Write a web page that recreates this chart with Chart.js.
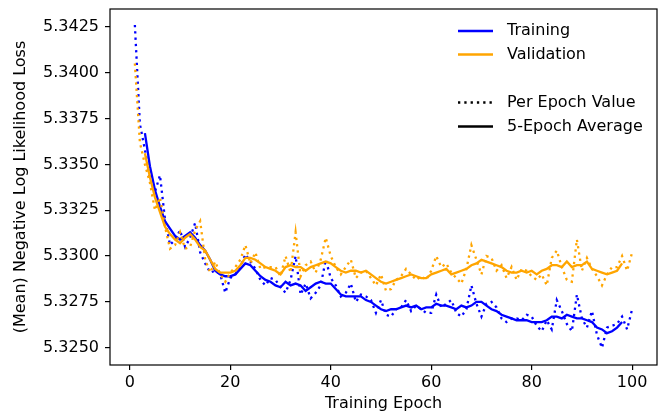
<!DOCTYPE html>
<html>
<head>
<meta charset="utf-8">
<script src="https://cdn.jsdelivr.net/npm/chart.js@4.4.1/dist/chart.umd.min.js"></script>
<style>
  html, body { margin: 0; padding: 0; background: #fff; }
  canvas { display: block; }
</style>
</head>
<body>
<canvas id="lossChart" width="659" height="416"></canvas>
<script>
// epochs 1..100 (per-epoch values) and 3..98 (centred 5-epoch average)
const epochs = Array.from({ length: 100 }, (_, i) => i + 1);
const avgEpochs = Array.from({ length: 96 }, (_, i) => i + 3);

const trainLoss = [
    5.3426, 5.3372, 5.3358, 5.3342, 5.3335, 5.3344, 5.3320, 5.3306, 5.3309, 5.3314,
    5.3305, 5.3310, 5.3318, 5.3302, 5.3296, 5.3291, 5.3292, 5.3290, 5.3280, 5.3288,
    5.3290, 5.3294, 5.3301, 5.3297, 5.3293, 5.3287, 5.3284, 5.3288, 5.3287, 5.3283,
    5.3280, 5.3287, 5.3300, 5.3279, 5.3285, 5.3277, 5.3280, 5.3284, 5.3298, 5.3288,
    5.3284, 5.3278, 5.3280, 5.3285, 5.3275, 5.3279, 5.3278, 5.3276, 5.3269, 5.3276,
    5.3268, 5.3267, 5.3271, 5.3272, 5.3276, 5.3270, 5.3273, 5.3271, 5.3269, 5.3269,
    5.3279, 5.3272, 5.3274, 5.3276, 5.3269, 5.3267, 5.3271, 5.3284, 5.3274, 5.3267,
    5.3274, 5.3275, 5.3272, 5.3266, 5.3264, 5.3266, 5.3266, 5.3265, 5.3268, 5.3267,
    5.3262, 5.3259, 5.3265, 5.3260, 5.3276, 5.3270, 5.3263, 5.3259, 5.3279, 5.3266,
    5.3261, 5.3270, 5.3257, 5.3250, 5.3261, 5.3262, 5.3263, 5.3267, 5.3260, 5.3271
];

const validLoss = [
    5.3405, 5.3362, 5.3350, 5.3340, 5.3325, 5.3332, 5.3316, 5.3304, 5.3306, 5.3313,
    5.3304, 5.3305, 5.3314, 5.3319, 5.3298, 5.3291, 5.3297, 5.3290, 5.3286, 5.3291,
    5.3294, 5.3298, 5.3306, 5.3296, 5.3302, 5.3293, 5.3294, 5.3294, 5.3294, 5.3289,
    5.3300, 5.3291, 5.3313, 5.3289, 5.3295, 5.3297, 5.3291, 5.3298, 5.3310, 5.3300,
    5.3294, 5.3290, 5.3294, 5.3298, 5.3288, 5.3291, 5.3292, 5.3288, 5.3284, 5.3290,
    5.3281, 5.3282, 5.3287, 5.3289, 5.3293, 5.3290, 5.3287, 5.3289, 5.3287, 5.3292,
    5.3300, 5.3294, 5.3296, 5.3291, 5.3288, 5.3285, 5.3293, 5.3306, 5.3298, 5.3290,
    5.3300, 5.3299, 5.3292, 5.3295, 5.3288, 5.3294, 5.3287, 5.3293, 5.3292, 5.3289,
    5.3287, 5.3290, 5.3284, 5.3299, 5.3303, 5.3294, 5.3287, 5.3286, 5.3309, 5.3292,
    5.3299, 5.3293, 5.3289, 5.3284, 5.3290, 5.3294, 5.3294, 5.3300, 5.3292, 5.3302
];

const trainAvg = [
    5.3367, 5.3349, 5.3336, 5.3327, 5.3319, 5.3315, 5.3311, 5.3309,
    5.3311, 5.3313, 5.3310, 5.3306, 5.3303, 5.3298, 5.3292, 5.3290, 5.3289, 5.3289,
    5.3290, 5.3293, 5.3296, 5.3295, 5.3292, 5.3289, 5.3287, 5.3286, 5.3284, 5.3283,
    5.3286, 5.3284, 5.3285, 5.3284, 5.3281, 5.3283, 5.3285, 5.3286, 5.3285, 5.3285,
    5.3282, 5.3279, 5.3278, 5.3278, 5.3278, 5.3278, 5.3276, 5.3275, 5.3273, 5.3271,
    5.3270, 5.3271, 5.3271, 5.3272, 5.3273, 5.3272, 5.3273, 5.3271, 5.3272, 5.3272,
    5.3274, 5.3273, 5.3273, 5.3272, 5.3271, 5.3273, 5.3272, 5.3273, 5.3275, 5.3275,
    5.3273, 5.3271, 5.3270, 5.3268, 5.3267, 5.3266, 5.3265, 5.3265, 5.3265, 5.3264,
    5.3264, 5.3264, 5.3265, 5.3267, 5.3267, 5.3266, 5.3268, 5.3267, 5.3266, 5.3266,
    5.3265, 5.3264, 5.3261, 5.3260, 5.3258, 5.3259, 5.3261, 5.3264
];

const validAvg = [
    5.3356, 5.3343, 5.3332, 5.3324, 5.3316, 5.3312, 5.3309, 5.3307,
    5.3310, 5.3312, 5.3309, 5.3305, 5.3303, 5.3298, 5.3293, 5.3291, 5.3291, 5.3291,
    5.3292, 5.3295, 5.3299, 5.3299, 5.3298, 5.3296, 5.3294, 5.3293, 5.3292, 5.3290,
    5.3294, 5.3295, 5.3294, 5.3294, 5.3292, 5.3294, 5.3295, 5.3296, 5.3297, 5.3296,
    5.3294, 5.3292, 5.3291, 5.3292, 5.3292, 5.3291, 5.3292, 5.3290, 5.3288, 5.3286,
    5.3285, 5.3286, 5.3287, 5.3288, 5.3289, 5.3290, 5.3289, 5.3288, 5.3288, 5.3290,
    5.3291, 5.3292, 5.3293, 5.3290, 5.3291, 5.3292, 5.3293, 5.3295, 5.3296, 5.3298,
    5.3297, 5.3296, 5.3295, 5.3294, 5.3292, 5.3291, 5.3291, 5.3292, 5.3291, 5.3292,
    5.3290, 5.3292, 5.3293, 5.3295, 5.3295, 5.3294, 5.3297, 5.3294, 5.3295, 5.3295,
    5.3297, 5.3293, 5.3292, 5.3291, 5.3290, 5.3291, 5.3292, 5.3296
];

const xTicks = [0, 20, 40, 60, 80, 100];
const yTicks = [5.3250, 5.3275, 5.3300, 5.3325, 5.3350, 5.3375, 5.3400, 5.3425];

const BLUE = "#0000ff";
const ORANGE = "#ffa500";
const FONT = "'DejaVu Sans', sans-serif";

function points(xs, ys) {
    return xs.map((x, i) => ({ x: x, y: ys[i] }));
}

function lineSet(label, xs, ys, color, dotted, order) {
    return {
        label: label,
        data: points(xs, ys),
        borderColor: color,
        borderWidth: 2.3,
        borderDash: dotted ? [2.3, 4] : [],
        borderCapStyle: "butt",
        pointRadius: 0,
        tension: 0,
        fill: false,
        order: order
    };
}

// box round the plot, like matplotlib spines
const framePlugin = {
    id: "frame",
    afterDraw(chart) {
        const { ctx, chartArea: a } = chart;
        ctx.save();
        ctx.strokeStyle = "#000";
        ctx.lineWidth = 1.2;
        ctx.strokeRect(a.left, a.top, a.right - a.left, a.bottom - a.top);
        ctx.restore();
    }
};

// legend in the upper right corner
const legendItems = [
    { text: "Training", color: BLUE, dash: [], dy: 22 },
    { text: "Validation", color: ORANGE, dash: [], dy: 45.5 },
    { text: "Per Epoch Value", color: "#000", dash: [2.3, 4], dy: 93.5 },
    { text: "5-Epoch Average", color: "#000", dash: [], dy: 117.5 }
];

const legendPlugin = {
    id: "cornerLegend",
    afterDraw(chart) {
        const { ctx, chartArea: a } = chart;
        ctx.save();
        ctx.font = "16px " + FONT;
        ctx.textBaseline = "middle";
        legendItems.forEach(item => {
            const y = a.top + item.dy;
            ctx.beginPath();
            ctx.strokeStyle = item.color;
            ctx.lineWidth = 2.3;
            ctx.lineCap = "butt";
            ctx.setLineDash(item.dash);
            ctx.moveTo(a.right - 199, y);
            ctx.lineTo(a.right - 164, y);
            ctx.stroke();
            ctx.setLineDash([]);
            ctx.fillStyle = "#000";
            ctx.fillText(item.text, a.right - 150, y);
        });
        ctx.restore();
    }
};

Chart.defaults.font.family = FONT;
Chart.defaults.font.size = 16;
Chart.defaults.color = "#000";

new Chart(document.getElementById("lossChart").getContext("2d"), {
    type: "line",
    data: {
        datasets: [
            lineSet("Validation 5-Epoch Average", avgEpochs, validAvg, ORANGE, false, 1),
            lineSet("Validation Per Epoch", epochs, validLoss, ORANGE, true, 2),
            lineSet("Training 5-Epoch Average", avgEpochs, trainAvg, BLUE, false, 3),
            lineSet("Training Per Epoch", epochs, trainLoss, BLUE, true, 4)
        ]
    },
    options: {
        responsive: false,
        animation: false,
        layout: { padding: { top: 9, right: 2, left: 0, bottom: 0 } },
        plugins: {
            legend: { display: false },
            tooltip: { enabled: false }
        },
        scales: {
            x: {
                type: "linear",
                min: -3.95,
                max: 104.95,
                afterBuildTicks: s => { s.ticks = xTicks.map(v => ({ value: v })); },
                afterFit: s => { s.height = 51; s.paddingRight = 0; s.paddingLeft = 0; },
                grid: { drawOnChartArea: false, drawTicks: true, tickLength: 5, color: "#000", lineWidth: 1.2 },
                border: { display: false },
                ticks: { padding: 3, color: "#000", maxRotation: 0, callback: v => String(v) },
                title: { display: true, text: "Training Epoch", color: "#000", padding: { top: 0, bottom: 3 } }
            },
            y: {
                type: "linear",
                min: 5.32406,
                max: 5.34347,
                afterBuildTicks: s => { s.ticks = yTicks.map(v => ({ value: v })); },
                afterFit: s => { s.width = 110; s.paddingTop = 0; s.paddingBottom = 0; },
                grid: { drawOnChartArea: false, drawTicks: true, tickLength: 5, color: "#000", lineWidth: 1.2 },
                border: { display: false },
                ticks: { padding: 6, color: "#000", callback: v => v.toFixed(4) },
                title: { display: true, text: "(Mean) Negative Log Likelihood Loss", color: "#000", padding: { top: 11, bottom: 0 } }
            }
        }
    },
    plugins: [framePlugin, legendPlugin]
});
</script>
</body>
</html>
